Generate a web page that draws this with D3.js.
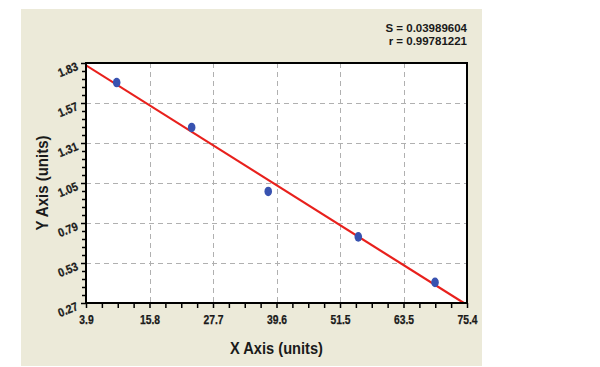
<!DOCTYPE html>
<html>
<head>
<meta charset="utf-8">
<script src="https://cdn.jsdelivr.net/npm/d3@7"></script>
<style>
  html, body { margin: 0; padding: 0; background: #ffffff; }
  svg { display: block; }
  text { font-family: "Liberation Sans", Arial, sans-serif; font-weight: bold; fill: #1a1a1a; }
</style>
</head>
<body>
<svg id="chart" width="600" height="367"></svg>
<script>
// ---- data ----
const xTickLabels = ["3.9", "15.8", "27.7", "39.6", "51.5", "63.5", "75.4"];
const yTickLabels = ["0.27", "0.53", "0.79", "1.05", "1.31", "1.57", "1.83"];
const pointX = [9.66, 23.73, 38.1, 55.0, 69.4];
const pointY = [1.703, 1.411, 0.995, 0.700, 0.404];
const fitX = [3.9, 74.8];
const fitY = [1.815, 0.27];
const statLines = ["S = 0.03989604", "r = 0.99781221"];
const xTitle = "X Axis (units)";
const yTitle = "Y Axis (units)";

// ---- layout ----
const svg = d3.select("#chart");
const panel = { x: 21, y: 9, w: 461, h: 357 };
const plot = { left: 86, right: 467, top: 63, bottom: 303 };
const font = '"Liberation Sans", Arial, sans-serif';

// approximate bold-sans advance widths (em) for numeric labels
function emWidth(s) {
  let w = 0;
  for (const c of s) w += (c === "." ? 0.278 : 0.556);
  return w;
}
function condense(sel, size, factor) {
  sel.attr("font-size", size)
    .attr("stroke", "#1a1a1a").attr("stroke-width", 0.25)
    .each(function () {
      const t = d3.select(this).text();
      d3.select(this).attr("textLength", emWidth(t) * size * factor).attr("lengthAdjust", "spacingAndGlyphs");
    });
}

svg.append("rect").attr("x", panel.x).attr("y", panel.y).attr("width", panel.w).attr("height", panel.h)
  .attr("fill", "#ecead9");

const xMin = +xTickLabels[0], xMax = +xTickLabels[xTickLabels.length - 1];
const yMin = +yTickLabels[0], yMax = +yTickLabels[yTickLabels.length - 1];
const x = d3.scaleLinear().domain([xMin, xMax]).range([plot.left, plot.right]);
const y = d3.scaleLinear().domain([yMin, yMax]).range([plot.bottom, plot.top]);

const xMajor = xTickLabels.map((d, i) => xMin + i * (xMax - xMin) / (xTickLabels.length - 1));
const yMajor = yTickLabels.map((d, i) => yMin + i * (yMax - yMin) / (yTickLabels.length - 1));
const xMinor = [], yMinor = [];
for (let i = 0; i < xMajor.length - 1; i++) for (let k = 1; k < 4; k++) xMinor.push(xMajor[i] + k * (xMajor[i + 1] - xMajor[i]) / 4);
for (let i = 0; i < yMajor.length - 1; i++) for (let k = 1; k < 5; k++) yMinor.push(yMajor[i] + k * (yMajor[i + 1] - yMajor[i]) / 5);

// plot background
svg.append("rect").attr("x", plot.left).attr("y", plot.top)
  .attr("width", plot.right - plot.left).attr("height", plot.bottom - plot.top).attr("fill", "#ffffff");

// grid
const grid = svg.append("g").attr("stroke", "#b0b0b0").attr("stroke-width", 1).attr("stroke-dasharray", "5,4");
grid.selectAll("line.gx").data(xMajor.slice(1, -1)).join("line")
  .attr("x1", d => Math.round(x(d)) + 0.5).attr("x2", d => Math.round(x(d)) + 0.5)
  .attr("y1", plot.top).attr("y2", plot.bottom);
grid.selectAll("line.gy").data(yMajor.slice(1, -1)).join("line")
  .attr("y1", d => Math.round(y(d)) + 0.5).attr("y2", d => Math.round(y(d)) + 0.5)
  .attr("x1", plot.left).attr("x2", plot.right);

// axes
const xAxis = d3.axisBottom(x).tickValues(xMajor).tickSize(5).tickFormat((d, i) => xTickLabels[i]);
const gx = svg.append("g").attr("transform", `translate(0,${plot.bottom})`).call(xAxis);
gx.select(".domain").remove();
gx.selectAll(".tick line").attr("stroke", "#000").attr("stroke-width", 1.5);
gx.selectAll(".tick text").attr("dy", "0").attr("y", 21)
  .style("font-family", font).style("font-weight", "bold").attr("fill", "#1a1a1a")
  .call(condense, 12, 0.86);
svg.append("g").attr("transform", `translate(0,${plot.bottom})`)
  .call(d3.axisBottom(x).tickValues(xMinor).tickSize(5).tickFormat(""))
  .call(g => g.select(".domain").remove())
  .selectAll(".tick line").attr("stroke", "#000").attr("stroke-width", 1.5);

const yAxis = d3.axisLeft(y).tickValues(yMajor).tickSize(5).tickFormat((d, i) => yTickLabels[i]);
const gy = svg.append("g").attr("transform", `translate(${plot.left},0)`).call(yAxis);
gy.select(".domain").remove();
gy.selectAll(".tick line").attr("stroke", "#000").attr("stroke-width", 1.5);
gy.selectAll(".tick text")
  .attr("x", null).attr("dy", null)
  .attr("text-anchor", "end")
  .attr("transform", "translate(-7,6) rotate(-22)")
  .style("font-family", font).style("font-weight", "bold").attr("fill", "#1a1a1a")
  .call(condense, 12, 0.88);
svg.append("g").attr("transform", `translate(${plot.left},0)`)
  .call(d3.axisLeft(y).tickValues(yMinor).tickSize(4).tickFormat(""))
  .call(g => g.select(".domain").remove())
  .selectAll(".tick line").attr("stroke", "#000").attr("stroke-width", 1.5);

// clip
svg.append("clipPath").attr("id", "clip").append("rect")
  .attr("x", plot.left).attr("y", plot.top).attr("width", plot.right - plot.left).attr("height", plot.bottom - plot.top);

// fit line
const fitData = fitX.map((d, i) => [d, fitY[i]]);
svg.append("path").datum(fitData).attr("clip-path", "url(#clip)")
  .attr("d", d3.line().x(d => x(d[0])).y(d => y(d[1])))
  .attr("fill", "none").attr("stroke", "#e8201c").attr("stroke-width", 2.2);

// points
const pts = pointX.map((d, i) => [d, pointY[i]]);
svg.append("g").selectAll("ellipse").data(pts).join("ellipse")
  .attr("cx", d => x(d[0])).attr("cy", d => y(d[1])).attr("rx", 3.8).attr("ry", 4.8)
  .attr("fill", "#3852b0");

// frame
svg.append("rect").attr("x", plot.left).attr("y", plot.top)
  .attr("width", plot.right - plot.left).attr("height", plot.bottom - plot.top)
  .attr("fill", "none").attr("stroke", "#000").attr("stroke-width", 2);

// stats text
svg.append("g").selectAll("text").data(statLines).join("text")
  .attr("x", plot.right).attr("y", (d, i) => 32 + i * 13)
  .attr("text-anchor", "end").attr("font-size", 11.5)
  .style("font-family", font).text(d => d);

// titles
svg.append("text").attr("x", (plot.left + plot.right) / 2 - 0).attr("y", 354)
  .attr("text-anchor", "middle").attr("font-size", 17)
  .style("font-family", font).text(xTitle)
  .attr("textLength", 93).attr("lengthAdjust", "spacingAndGlyphs");
svg.append("text").attr("transform", `translate(48,${(plot.top + plot.bottom) / 2}) rotate(-90)`)
  .attr("text-anchor", "middle").attr("font-size", 17)
  .style("font-family", font).text(yTitle)
  .attr("textLength", 95).attr("lengthAdjust", "spacingAndGlyphs");
</script>
</body>
</html>
